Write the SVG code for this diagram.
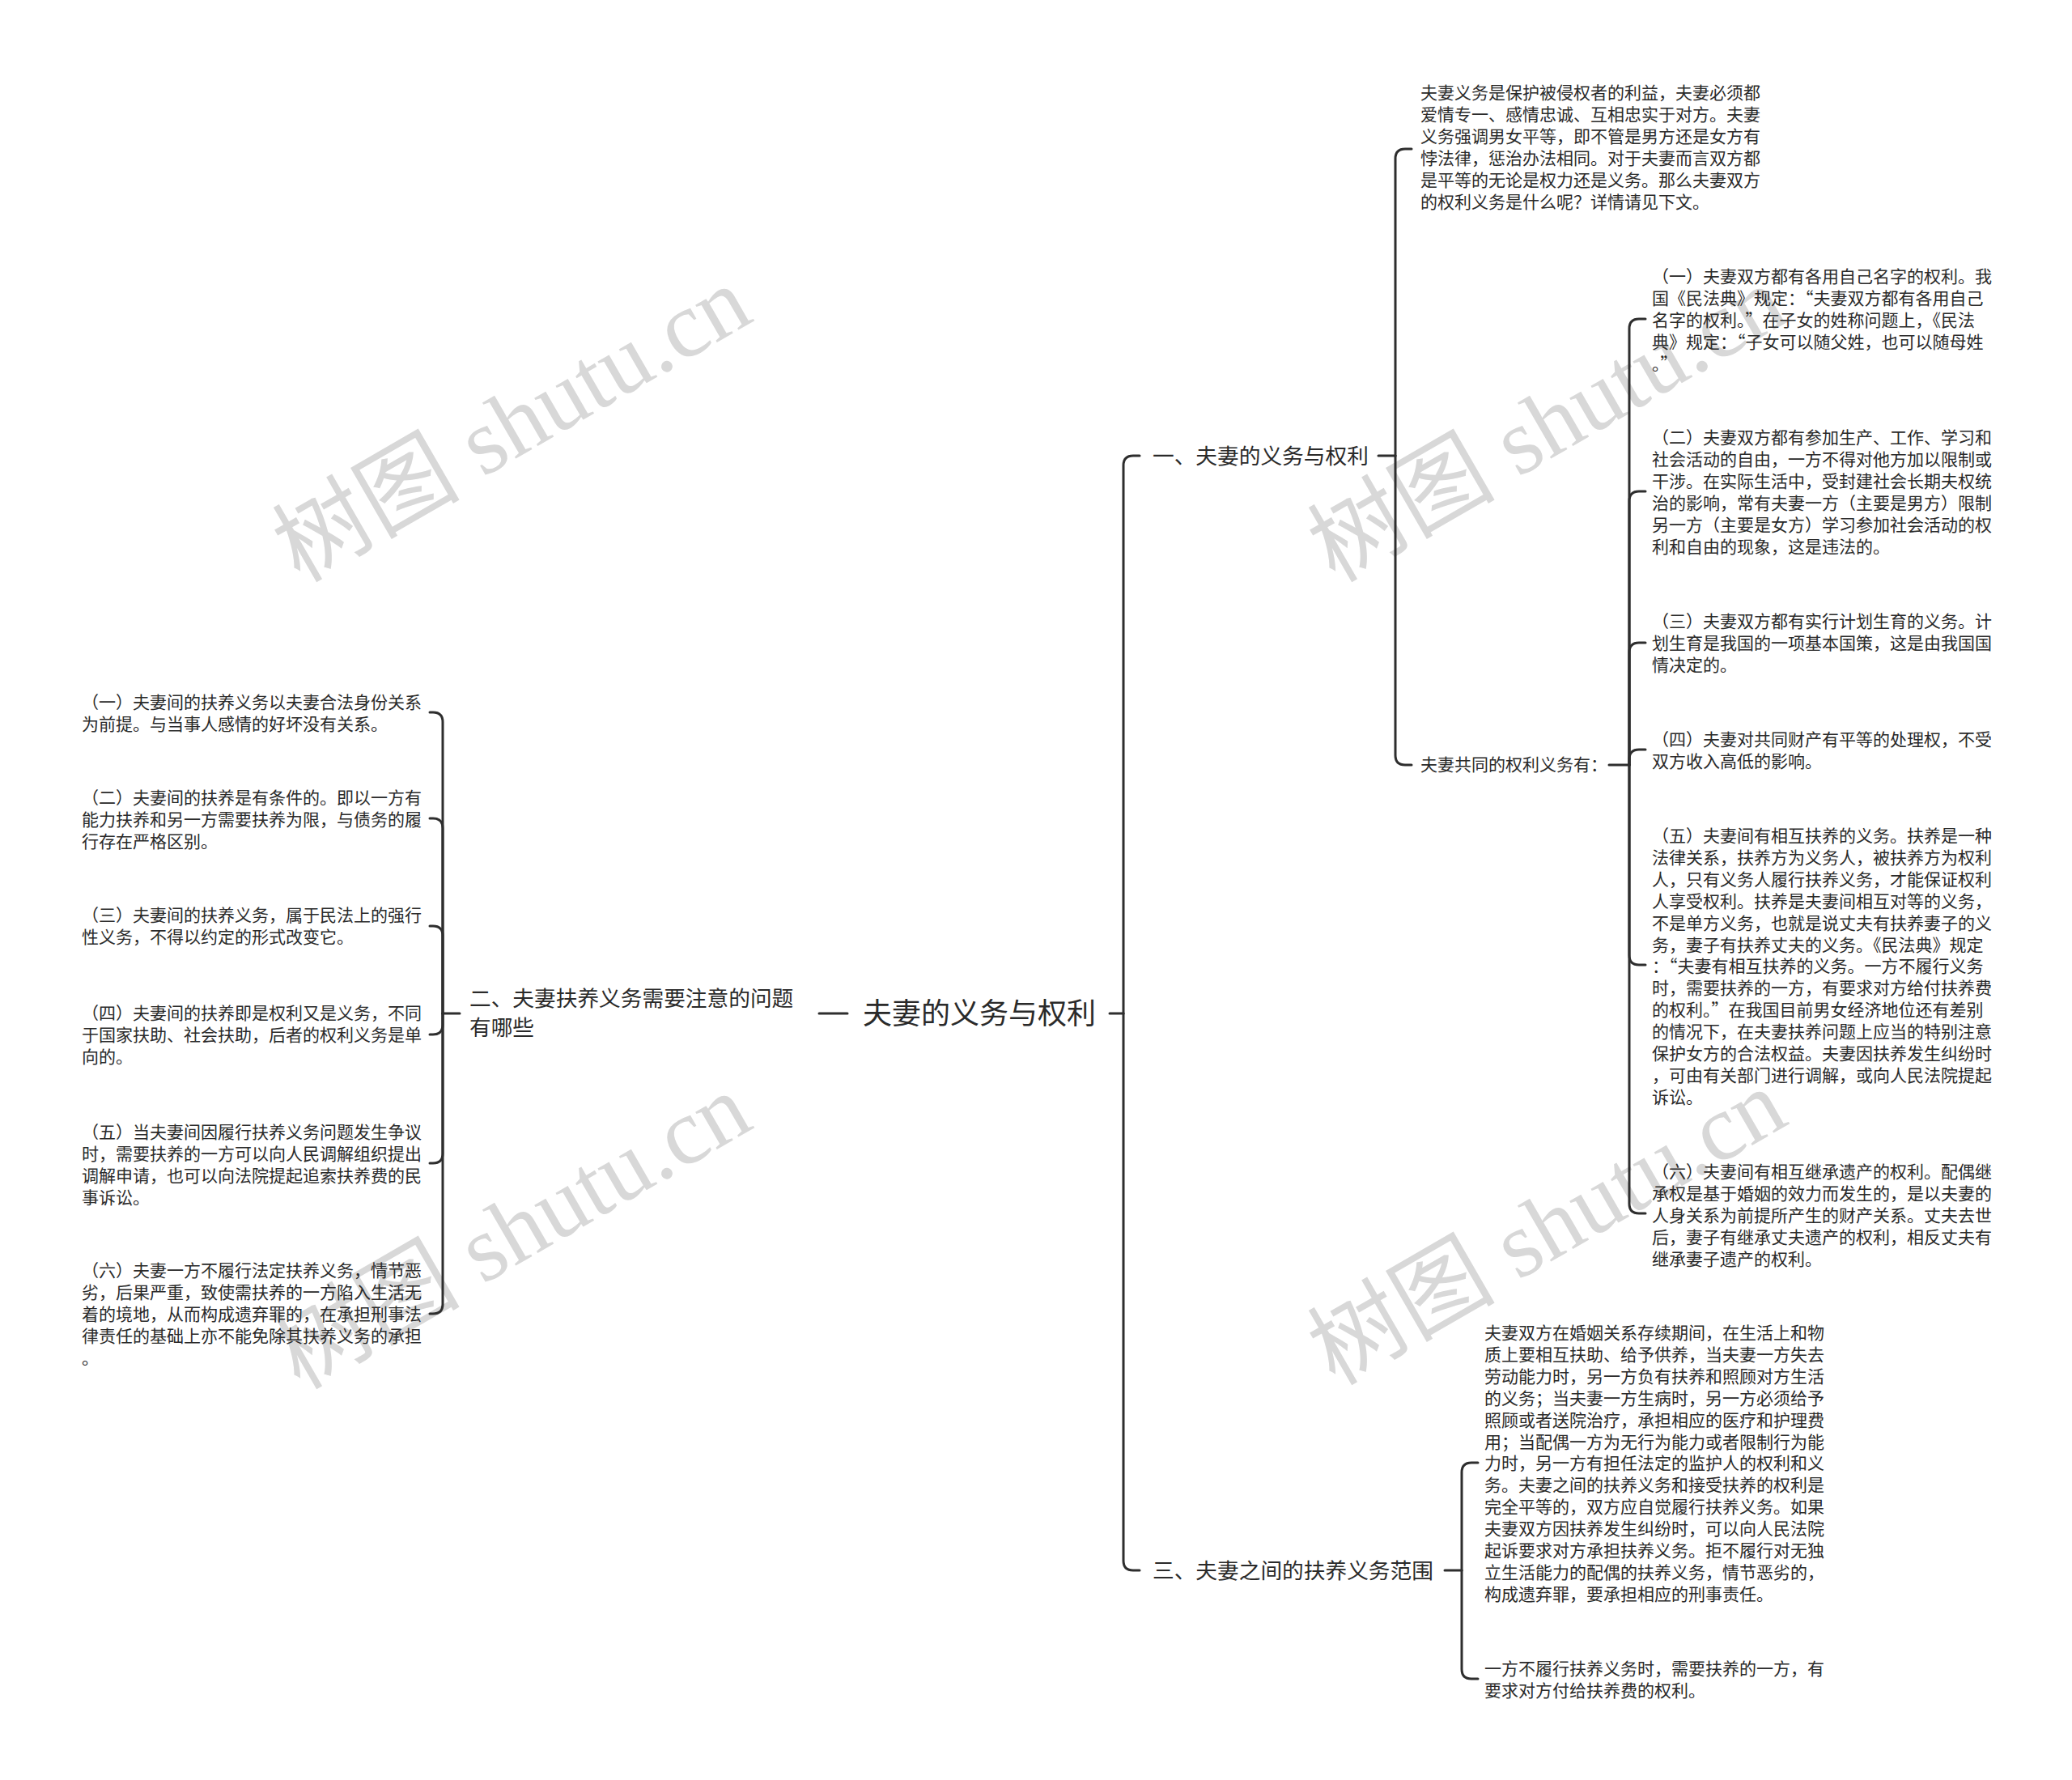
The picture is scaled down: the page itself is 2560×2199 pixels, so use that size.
<svg xmlns="http://www.w3.org/2000/svg" width="2560" height="2199" viewBox="0 0 2560 2199">
<style>
.bg{fill:#ffffff}
.wm{font-family:"Liberation Serif","Noto Sans CJK SC",serif;font-size:116px;fill:#d8d8d8;text-anchor:middle}
.t{font-family:"Noto Sans CJK SC","Liberation Sans",sans-serif;font-size:21px;fill:#2a2a2a;font-variant-east-asian:full-width}
.m{font-family:"Noto Sans CJK SC","Liberation Sans",sans-serif;font-size:26.7px;fill:#2a2a2a}
.r{font-family:"Noto Sans CJK SC","Liberation Sans",sans-serif;font-size:36px;fill:#2a2a2a}
.c{fill:none;stroke:#2e2e2e;stroke-width:3;stroke-linecap:round;stroke-linejoin:round}
</style>
<rect class="bg" x="0" y="0" width="2560" height="2199"/>
<g id="watermarks">
<text class="wm" transform="translate(652,558) rotate(-30)">树图 shutu.cn</text>
<text class="wm" transform="translate(1931,558) rotate(-30)">树图 shutu.cn</text>
<text class="wm" transform="translate(652,1555) rotate(-30)">树图 shutu.cn</text>
<text class="wm" transform="translate(1931,1550) rotate(-30)">树图 shutu.cn</text>
</g>
<g id="connectors">
<path class="c" d="M1012,1252 H1047"/>
<path class="c" d="M547,1252 H568"/>
<path class="c" d="M531,880 H535 Q547,880 547,892 V1252"/>
<path class="c" d="M531,1011 H535 Q547,1011 547,1023 V1252"/>
<path class="c" d="M531,1144 H535 Q547,1144 547,1156 V1252"/>
<path class="c" d="M531,1278 H535 Q547,1278 547,1266 V1252"/>
<path class="c" d="M531,1437 H535 Q547,1437 547,1425 V1252"/>
<path class="c" d="M531,1623 H535 Q547,1623 547,1611 V1252"/>
<path class="c" d="M1371,1252 H1388"/>
<path class="c" d="M1388,1252 V575 Q1388,563 1400,563 H1408"/>
<path class="c" d="M1388,1252 V1928 Q1388,1940 1400,1940 H1408"/>
<path class="c" d="M1703,563 H1724"/>
<path class="c" d="M1724,563 V196 Q1724,184 1736,184 H1744"/>
<path class="c" d="M1724,563 V933 Q1724,945 1736,945 H1744"/>
<path class="c" d="M1988,945 H2013"/>
<path class="c" d="M2013,945 V406 Q2013,394 2025,394 H2033"/>
<path class="c" d="M2013,945 V619 Q2013,607 2025,607 H2033"/>
<path class="c" d="M2013,945 V806 Q2013,794 2025,794 H2033"/>
<path class="c" d="M2013,945 V938 Q2013,926 2025,926 H2033"/>
<path class="c" d="M2013,945 V1180 Q2013,1192 2025,1192 H2033"/>
<path class="c" d="M2013,945 V1487 Q2013,1499 2025,1499 H2033"/>
<path class="c" d="M1785,1940 H1806"/>
<path class="c" d="M1806,1940 V1819 Q1806,1807 1818,1807 H1826"/>
<path class="c" d="M1806,1940 V2062 Q1806,2074 1818,2074 H1826"/>
</g>
<g id="root"><text class="r" x="1066" y="1265">夫妻的义务与权利</text></g>
<g id="b2"><text class="m" x="580" y="1243"><tspan x="580">二、夫妻扶养义务需要注意的问题</tspan><tspan x="580" dy="36">有哪些</tspan></text></g>
<g id="b1"><text class="m" x="1424" y="573">一、夫妻的义务与权利</text></g>
<g id="b3"><text class="m" x="1424" y="1950">三、夫妻之间的扶养义务范围</text></g>
<g id="intro"><text class="t" y="122"><tspan x="1755">夫妻义务是保护被侵权者的利益，夫妻必须都</tspan><tspan x="1755" dy="26.9">爱情专一、感情忠诚、互相忠实于对方。夫妻</tspan><tspan x="1755" dy="26.9">义务强调男女平等，即不管是男方还是女方有</tspan><tspan x="1755" dy="26.9">悖法律，惩治办法相同。对于夫妻而言双方都</tspan><tspan x="1755" dy="26.9">是平等的无论是权力还是义务。那么夫妻双方</tspan><tspan x="1755" dy="26.9">的权利义务是什么呢？详情请见下文。</tspan></text></g>
<g id="common"><text class="t" x="1755" y="952">夫妻共同的权利义务有：</text></g>
<g id="r1"><text class="t" y="349"><tspan x="2041">（一）夫妻双方都有各用自己名字的权利。我</tspan><tspan x="2041" dy="26.9">国《民法典》规定：“夫妻双方都有各用自己</tspan><tspan x="2041" dy="26.9">名字的权利。”在子女的姓称问题上，《民法</tspan><tspan x="2041" dy="26.9">典》规定：“子女可以随父姓，也可以随母姓</tspan><tspan x="2041" dy="26.9">。”</tspan></text></g>
<g id="r2"><text class="t" y="548"><tspan x="2041">（二）夫妻双方都有参加生产、工作、学习和</tspan><tspan x="2041" dy="26.9">社会活动的自由，一方不得对他方加以限制或</tspan><tspan x="2041" dy="26.9">干涉。在实际生活中，受封建社会长期夫权统</tspan><tspan x="2041" dy="26.9">治的影响，常有夫妻一方（主要是男方）限制</tspan><tspan x="2041" dy="26.9">另一方（主要是女方）学习参加社会活动的权</tspan><tspan x="2041" dy="26.9">利和自由的现象，这是违法的。</tspan></text></g>
<g id="r3"><text class="t" y="775"><tspan x="2041">（三）夫妻双方都有实行计划生育的义务。计</tspan><tspan x="2041" dy="26.9">划生育是我国的一项基本国策，这是由我国国</tspan><tspan x="2041" dy="26.9">情决定的。</tspan></text></g>
<g id="r4"><text class="t" y="921"><tspan x="2041">（四）夫妻对共同财产有平等的处理权，不受</tspan><tspan x="2041" dy="26.9">双方收入高低的影响。</tspan></text></g>
<g id="r5"><text class="t" y="1040"><tspan x="2041">（五）夫妻间有相互扶养的义务。扶养是一种</tspan><tspan x="2041" dy="26.9">法律关系，扶养方为义务人，被扶养方为权利</tspan><tspan x="2041" dy="26.9">人，只有义务人履行扶养义务，才能保证权利</tspan><tspan x="2041" dy="26.9">人享受权利。扶养是夫妻间相互对等的义务，</tspan><tspan x="2041" dy="26.9">不是单方义务，也就是说丈夫有扶养妻子的义</tspan><tspan x="2041" dy="26.9">务，妻子有扶养丈夫的义务。《民法典》规定</tspan><tspan x="2041" dy="26.9">：“夫妻有相互扶养的义务。一方不履行义务</tspan><tspan x="2041" dy="26.9">时，需要扶养的一方，有要求对方给付扶养费</tspan><tspan x="2041" dy="26.9">的权利。”在我国目前男女经济地位还有差别</tspan><tspan x="2041" dy="26.9">的情况下，在夫妻扶养问题上应当的特别注意</tspan><tspan x="2041" dy="26.9">保护女方的合法权益。夫妻因扶养发生纠纷时</tspan><tspan x="2041" dy="26.9">，可由有关部门进行调解，或向人民法院提起</tspan><tspan x="2041" dy="26.9">诉讼。</tspan></text></g>
<g id="r6"><text class="t" y="1455"><tspan x="2041">（六）夫妻间有相互继承遗产的权利。配偶继</tspan><tspan x="2041" dy="26.9">承权是基于婚姻的效力而发生的，是以夫妻的</tspan><tspan x="2041" dy="26.9">人身关系为前提所产生的财产关系。丈夫去世</tspan><tspan x="2041" dy="26.9">后，妻子有继承丈夫遗产的权利，相反丈夫有</tspan><tspan x="2041" dy="26.9">继承妻子遗产的权利。</tspan></text></g>
<g id="s1"><text class="t" y="1654"><tspan x="1834">夫妻双方在婚姻关系存续期间，在生活上和物</tspan><tspan x="1834" dy="26.9">质上要相互扶助、给予供养，当夫妻一方失去</tspan><tspan x="1834" dy="26.9">劳动能力时，另一方负有扶养和照顾对方生活</tspan><tspan x="1834" dy="26.9">的义务；当夫妻一方生病时，另一方必须给予</tspan><tspan x="1834" dy="26.9">照顾或者送院治疗，承担相应的医疗和护理费</tspan><tspan x="1834" dy="26.9">用；当配偶一方为无行为能力或者限制行为能</tspan><tspan x="1834" dy="26.9">力时，另一方有担任法定的监护人的权利和义</tspan><tspan x="1834" dy="26.9">务。夫妻之间的扶养义务和接受扶养的权利是</tspan><tspan x="1834" dy="26.9">完全平等的，双方应自觉履行扶养义务。如果</tspan><tspan x="1834" dy="26.9">夫妻双方因扶养发生纠纷时，可以向人民法院</tspan><tspan x="1834" dy="26.9">起诉要求对方承担扶养义务。拒不履行对无独</tspan><tspan x="1834" dy="26.9">立生活能力的配偶的扶养义务，情节恶劣的，</tspan><tspan x="1834" dy="26.9">构成遗弃罪，要承担相应的刑事责任。</tspan></text></g>
<g id="s2"><text class="t" y="2069"><tspan x="1834">一方不履行扶养义务时，需要扶养的一方，有</tspan><tspan x="1834" dy="26.9">要求对方付给扶养费的权利。</tspan></text></g>
<g id="l1"><text class="t" y="875"><tspan x="101">（一）夫妻间的扶养义务以夫妻合法身份关系</tspan><tspan x="101" dy="26.9">为前提。与当事人感情的好坏没有关系。</tspan></text></g>
<g id="l2"><text class="t" y="993"><tspan x="101">（二）夫妻间的扶养是有条件的。即以一方有</tspan><tspan x="101" dy="26.9">能力扶养和另一方需要扶养为限，与债务的履</tspan><tspan x="101" dy="26.9">行存在严格区别。</tspan></text></g>
<g id="l3"><text class="t" y="1138"><tspan x="101">（三）夫妻间的扶养义务，属于民法上的强行</tspan><tspan x="101" dy="26.9">性义务，不得以约定的形式改变它。</tspan></text></g>
<g id="l4"><text class="t" y="1259"><tspan x="101">（四）夫妻间的扶养即是权利又是义务，不同</tspan><tspan x="101" dy="26.9">于国家扶助、社会扶助，后者的权利义务是单</tspan><tspan x="101" dy="26.9">向的。</tspan></text></g>
<g id="l5"><text class="t" y="1406"><tspan x="101">（五）当夫妻间因履行扶养义务问题发生争议</tspan><tspan x="101" dy="26.9">时，需要扶养的一方可以向人民调解组织提出</tspan><tspan x="101" dy="26.9">调解申请，也可以向法院提起追索扶养费的民</tspan><tspan x="101" dy="26.9">事诉讼。</tspan></text></g>
<g id="l6"><text class="t" y="1577"><tspan x="101">（六）夫妻一方不履行法定扶养义务，情节恶</tspan><tspan x="101" dy="26.9">劣，后果严重，致使需扶养的一方陷入生活无</tspan><tspan x="101" dy="26.9">着的境地，从而构成遗弃罪的，在承担刑事法</tspan><tspan x="101" dy="26.9">律责任的基础上亦不能免除其扶养义务的承担</tspan><tspan x="101" dy="26.9">。</tspan></text></g>
</svg>
